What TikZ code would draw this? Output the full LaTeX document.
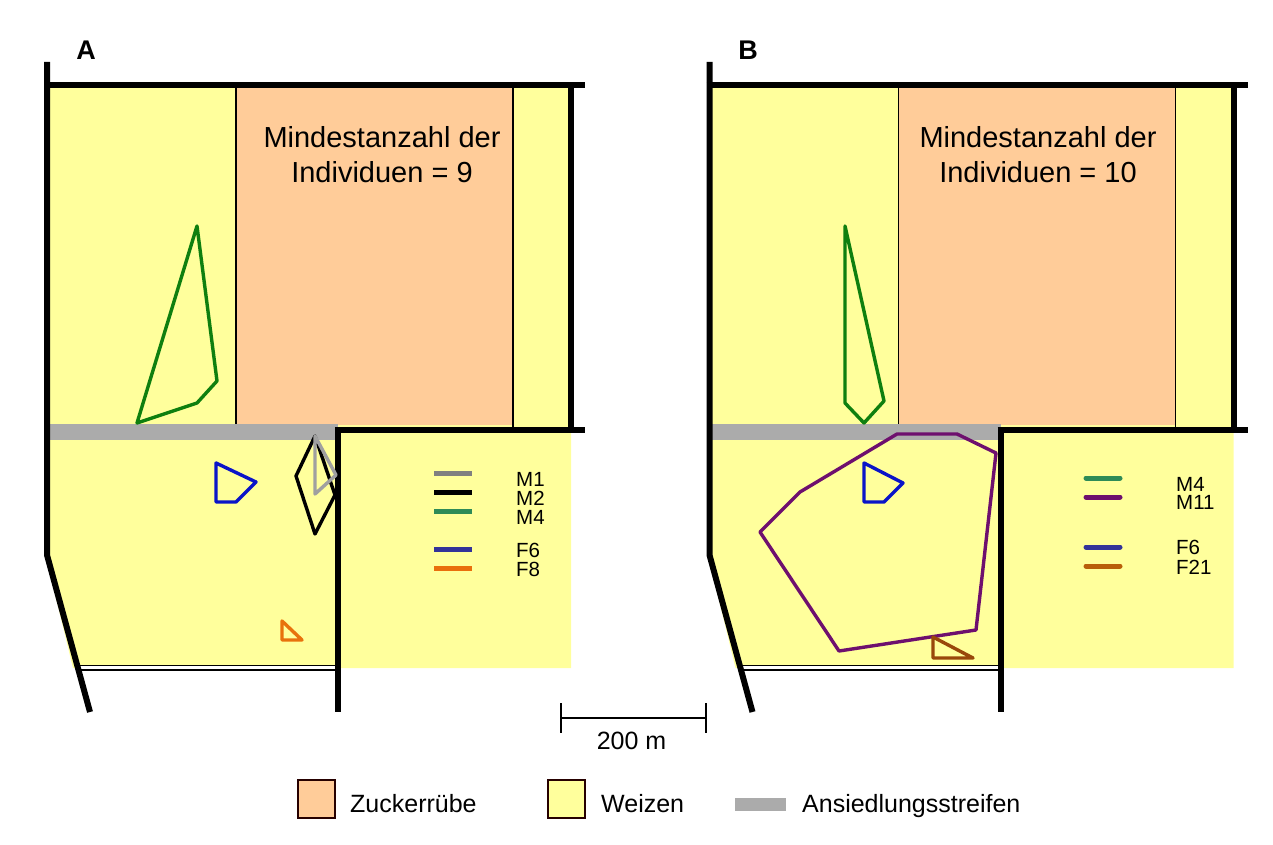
\documentclass[tikz,border=0pt]{standalone}
\usepackage{fontspec}
\setmainfont{Liberation Sans}
\definecolor{wheat}{HTML}{FFFF9C}
\definecolor{beet}{HTML}{FFCC99}
\definecolor{strip}{HTML}{ABABAB}
\definecolor{rgreen}{HTML}{0F7F0F}
\definecolor{rblue}{HTML}{0A14C8}
\definecolor{rorange}{HTML}{E8720C}
\definecolor{rgrey}{HTML}{A0A0A0}
\definecolor{rpurple}{HTML}{6E0F6E}
\definecolor{rbrown}{HTML}{99480A}
\definecolor{lgrey}{HTML}{808080}
\definecolor{lgreen}{HTML}{2E8B57}
\definecolor{lblue}{HTML}{333399}
\definecolor{lorange}{HTML}{E96F0C}
\definecolor{lbrown}{HTML}{B85F0A}
\tikzset{
  x=1pt,y=-1pt,
  thick road/.style={line width=6pt,line cap=butt,line join=miter},
  thin border/.style={line width=1.6pt},
  homerange/.style={line width=3.4pt,line join=round},
  key line/.style={line width=5pt},
  panel title/.style={font=\fontsize{27}{27}\selectfont\bfseries},
  big label/.style={font=\fontsize{29}{35}\selectfont,align=center},
  key label/.style={font=\fontsize{20.5}{20.5}\selectfont,anchor=base west,inner sep=0pt},
  legend label/.style={font=\fontsize{25}{25}\selectfont,anchor=base west,inner sep=0pt},
  swatch/.style={draw=black!85!red,line width=2.4pt}
}
\newcommand{\fieldbase}{%
  \fill[wheat] (47,85) -- (571,85) -- (571,668) -- (73,668) -- (45,553) -- cycle;
  \fill[beet] (236,85) rectangle (513,425);
  \draw[thin border] (236,85) -- (236,425);
  \draw[thin border] (513,85) -- (513,430);
  \fill[strip] (49,424) rectangle (338,440);
  \fill[white] (78,665.5) rectangle (338,670);
  \draw[line width=1.7pt] (78,665.5) -- (338,665.5);
  \draw[line width=1.7pt] (78,670) -- (338,670);
  \draw[thick road] (47,62) -- (47,555) -- (90,712);
  \draw[thick road] (44,85) -- (585,85);
  \draw[thick road] (571,85) -- (571,430);
  \draw[thick road] (335,430) -- (585,430);
  \draw[thick road] (338,430) -- (338,712);
}
\begin{document}
\begin{tikzpicture}
\useasboundingbox (0,0) rectangle (1273,845);
% Panel A
\fieldbase
\node[panel title] (titleA) at (86,50) {A};
\node[big label] (countA) at (382,155) {Mindestanzahl der\\Individuen = 9};
\draw[homerange,rgreen] (197,226) -- (217,381) -- (197,403) -- (137,423) -- cycle;
\draw[homerange,rblue] (216,463) -- (256,482) -- (236,502) -- (216,502) -- cycle;
\draw[homerange,black] (315,436) -- (296,476) -- (315,534) -- (335,495) -- cycle;
\draw[homerange,rgrey] (315,436) -- (336,475) -- (315,494) -- cycle;
\draw[homerange,rorange] (282,621) -- (302,640) -- (282,640) -- cycle;
\draw[key line,lgrey] (434,473.5) -- (472,473.5);
\draw[key line,black] (434,492.5) -- (472,492.5);
\draw[key line,lgreen] (434,511.5) -- (472,511.5);
\draw[key line,lblue] (434,549.5) -- (472,549.5);
\draw[key line,lorange] (434,568.5) -- (472,568.5);
\node[key label] (m1a) at (516,486) {M1};
\node[key label] (m2a) at (516,505) {M2};
\node[key label] (m4a) at (516,524) {M4};
\node[key label] (f6a) at (516,557.5) {F6};
\node[key label] (f8a) at (516,576.5) {F8};
% Panel B
\begin{scope}[xshift=662.5pt]
\fieldbase
\end{scope}
\node[panel title] (titleB) at (748,50) {B};
\node[big label] (countB) at (1038,155) {Mindestanzahl der\\Individuen = 10};
\draw[homerange,rgreen] (845,226) -- (884,401) -- (864,423) -- (845,403) -- cycle;
\draw[homerange,rpurple] (897,434) -- (957,434) -- (996,453) -- (976,630) -- (839,651) -- (760,532) -- (800,492) -- cycle;
\draw[homerange,rblue] (864,463) -- (903,483) -- (884,502) -- (864,502) -- cycle;
\draw[homerange,rbrown] (933,637) -- (973,658) -- (933,658) -- cycle;
\draw[key line,lgreen,line cap=round] (1086,478) -- (1120,478);
\draw[key line,rpurple,line cap=round] (1086,497) -- (1120,497);
\draw[key line,lblue,line cap=round] (1086,547) -- (1120,547);
\draw[key line,lbrown,line cap=round] (1086,566) -- (1120,566);
\node[key label] (m4b) at (1176,491) {M4};
\node[key label] (m11b) at (1176,509.5) {M11};
\node[key label] (f6b) at (1176,554.5) {F6};
\node[key label] (f21b) at (1176,574.5) {F21};
% Scale bar
\draw[line width=2pt] (561,703) -- (561,733);
\draw[line width=2pt] (706,703) -- (706,733);
\draw[line width=2pt] (561,718) -- (706,718);
\node[font=\fontsize{25}{25}\selectfont] (scale) at (631.5,741) {200 m};
% Legend
\draw[swatch,fill=beet] (298,780) rectangle (335,818);
\node[legend label] (lz) at (350,812) {Zuckerrübe};
\draw[swatch,fill=wheat] (548,780) rectangle (585,818);
\node[legend label] (lw) at (601,812) {Weizen};
\fill[strip] (735,798) rectangle (786,811);
\node[legend label] (la) at (802,812) {Ansiedlungsstreifen};
\end{tikzpicture}
\end{document}
